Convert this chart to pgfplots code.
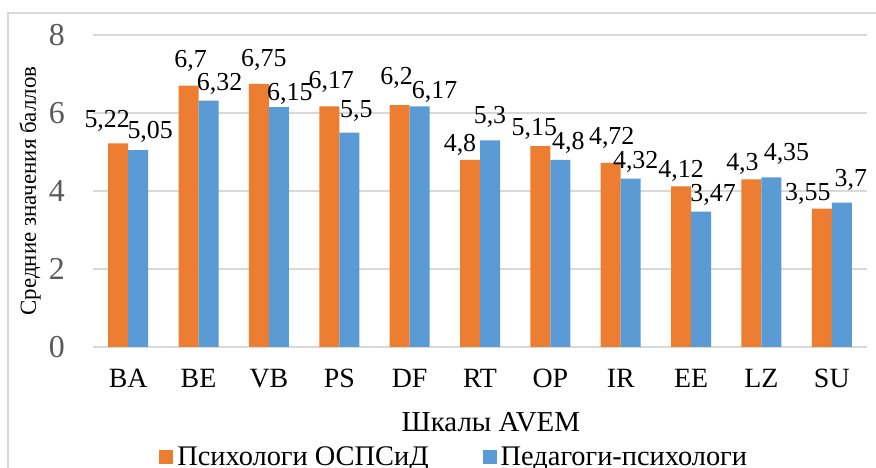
\documentclass[border=0pt]{standalone}
\usepackage{pgfplots}
\usepackage{pgfplotstable}
\pgfplotsset{compat=1.18}
\usepackage{fontspec}
\setmainfont{Liberation Serif}
\definecolor{cOr}{HTML}{ED7D31}
\definecolor{cBl}{HTML}{5B9BD5}
\definecolor{cGrid}{HTML}{D9D9D9}
\definecolor{cTick}{HTML}{595959}
\pgfplotstableread{
x y dx dy
0 5.22 -11 16
1 6.7 2 18
2 6.75 5 17
3 6.17 2 18
4 6.2 -3 21
5 4.8 -10 8
6 5.15 -6 11
7 4.72 1 18
8 4.12 0 9
9 4.3 -9 9
10 3.55 -14 8
}\orangedata
\pgfplotstableread{
x y dx dy
0 5.05 12 12
1 6.32 11 10
2 6.15 11 7
3 5.5 7 15
4 6.17 15 8
5 5.3 0 17
6 4.8 8 10
7 4.32 5 10
8 3.47 12 10
9 4.35 15 17
10 3.7 9 16
}\bluedata
\begin{document}
\begin{tikzpicture}
\useasboundingbox (0,0) rectangle (876bp,468bp);
\fill[white] (0,0) rectangle (876bp,468bp);
\draw[cGrid, line width=1.5bp] (8bp,-30bp) -- (8bp,455bp) -- (900bp,455bp);
\begin{axis}[
  at={(93bp,121bp)}, anchor=south west,
  scale only axis, width=774bp, height=312bp,
  xmin=-0.5, xmax=10.5, ymin=0, ymax=8,
  ybar=0pt, bar width=20bp,
  xtick={0,...,10},
  xticklabels={BA,BE,VB,PS,DF,RT,OP,IR,EE,LZ,SU},
  ytick={0,2,4,6,8},
  ymajorgrids, grid style={cGrid, line width=1.3bp},
  axis x line*=bottom, axis y line*=left,
  x axis line style={cGrid, line width=1.5bp, -},
  y axis line style={draw=none},
  major tick length=0pt,
  /pgf/number format/assume math mode=true,
  /pgf/number format/use comma,
  xticklabel style={font=\fontsize{28}{32}\selectfont, anchor=base, inner sep=0pt, yshift=-40bp},
  yticklabel style={font=\fontsize{32}{36}\selectfont, text=cTick, anchor=east, inner sep=0pt, xshift=-28bp},
  every axis y label/.style={at={(axis description cs:-0.0814,0.5)}, anchor=center, rotate=90, font=\fontsize{23}{27}\selectfont},
  ylabel={Средние значения баллов},
  every axis x label/.style={at={(axis description cs:0.514,-0.272)}, anchor=base, font=\fontsize{29}{33}\selectfont},
  xlabel={Шкалы AVEM},
  nodes near coords,
  visualization depends on={\thisrow{dx} \as \dx},
  visualization depends on={\thisrow{dy} \as \dy},
  nodes near coords style={font=\fontsize{26}{30}\selectfont, inner sep=0pt, anchor=base, xshift=\dx bp, yshift=\dy bp},
  legend columns=2,
  legend style={at={(axis description cs:0.468,-0.353)}, anchor=center, draw=none, fill=none,
    font=\fontsize{28.5}{32}\selectfont, /tikz/every even column/.append style={column sep=50bp},
    nodes={inner xsep=4bp}},
  legend image code/.code={\fill[#1] (0bp,-7bp) rectangle (14bp,7bp);},
]
\addplot[fill=cOr, draw=none] table[x=x, y=y] {\orangedata};
\addlegendentry{Психологи ОСПСиД}
\addplot[fill=cBl, draw=none] table[x=x, y=y] {\bluedata};
\addlegendentry{Педагоги-психологи}
\end{axis}
\end{tikzpicture}
\end{document}
